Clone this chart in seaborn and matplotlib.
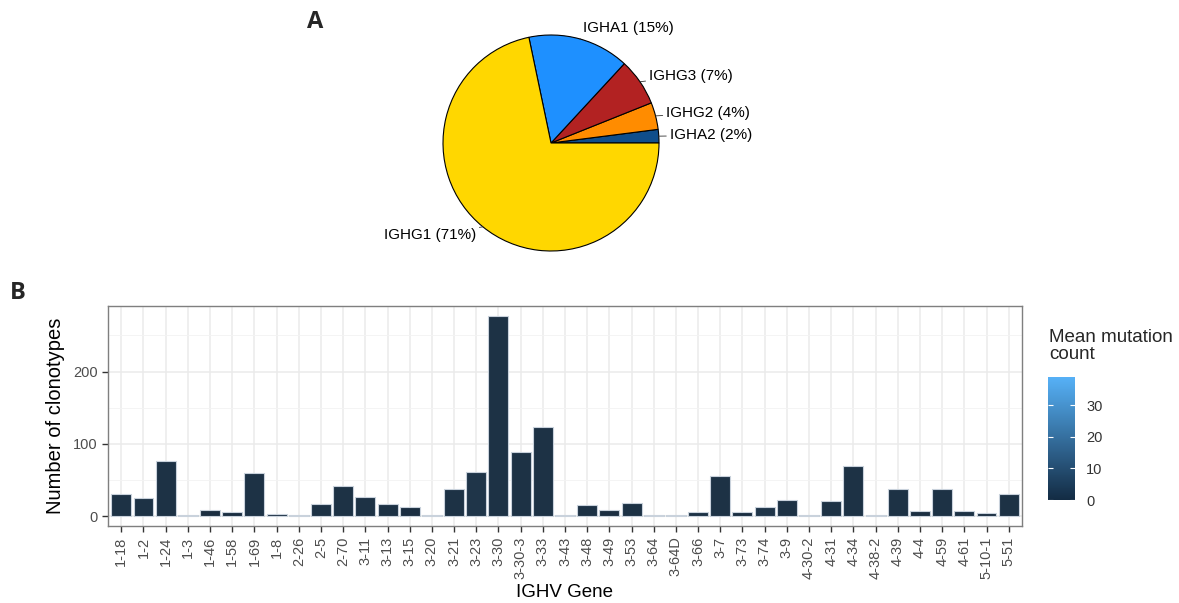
import matplotlib
matplotlib.use("Agg")
import matplotlib.pyplot as plt
import matplotlib.colors as mcolors
import numpy as np
import pandas as pd
import seaborn as sns

# panel A: isotype shares
isotypes = ["IGHA2", "IGHG2", "IGHG3", "IGHA1", "IGHG1"]
iso_pct = [2, 4, 7, 15, 71]
iso_colors = ["#104E8B", "#FF8C00", "#B22222", "#1E90FF", "#FFD700"]

# panel B: clonotypes per IGHV gene
genes = ["1-18", "1-2", "1-24", "1-3", "1-46", "1-58", "1-69", "1-8", "2-26", "2-5",
         "2-70", "3-11", "3-13", "3-15", "3-20", "3-21", "3-23", "3-30", "3-30-3", "3-33",
         "3-43", "3-48", "3-49", "3-53", "3-64", "3-64D", "3-66", "3-7", "3-73", "3-74",
         "3-9", "4-30-2", "4-31", "4-34", "4-38-2", "4-39", "4-4", "4-59", "4-61", "5-10-1",
         "5-51"]
clonotypes = [31, 25, 76, 1, 9, 5, 60, 3, 1, 16,
              42, 26, 16, 13, 1, 38, 61, 277, 88, 123,
              1, 15, 9, 18, 2, 1, 5, 56, 5, 12,
              22, 2, 21, 69, 1, 38, 7, 37, 7, 4,
              30]
mean_mut = [2, 2, 2, 4, 1, 1, 2, 1, 4, 2,
            2, 2, 2, 1, 5, 2, 3, 2, 2, 2,
            4, 2, 1, 2, 2, 8, 2, 2, 1, 3,
            2, 3, 2, 2, 5, 2, 1, 2, 2, 1,
            2]
mut_max = 39

sns.set_style("white")
plt.rcParams["font.family"] = ["Liberation Sans", "DejaVu Sans"]

W, H = 1179, 603
fig = plt.figure(figsize=(W / 100, H / 100), dpi=100)

def px_axes(x0, y0, x1, y1):
    return fig.add_axes([x0 / W, 1 - y1 / H, (x1 - x0) / W, (y1 - y0) / H])

# ---- pie ----
cx, cy, r = 551, 143, 108
axp = px_axes(cx - r, cy - r, cx + r, cy + r)
wedges, _ = axp.pie(iso_pct, colors=iso_colors, startangle=0, counterclock=True,
                    wedgeprops=dict(edgecolor="black", linewidth=0.8))
axp.set_xlim(-1, 1)
axp.set_ylim(-1, 1)
axp.set_aspect("equal")
axp.axis("off")
for w, name, p in zip(wedges, isotypes, iso_pct):
    ang = np.deg2rad((w.theta1 + w.theta2) / 2)
    ex, ey = np.cos(ang), np.sin(ang)
    tx, ty = 1.1 * ex, 1.1 * ey
    ha = "left" if ex >= 0 else "right"
    axp.annotate(f"{name} ({p}%)", xy=(ex, ey), xytext=(tx, ty), ha=ha, va="center",
                 fontsize=11, color="black", annotation_clip=False,
                 arrowprops=dict(arrowstyle="-", color="#333333", lw=0.6, shrinkA=0, shrinkB=0))

fig.text(315 / W, 1 - 22 / H, "A", fontsize=17, fontweight="bold", ha="center", va="center",
         family=["Open Sans", "DejaVu Sans"])
fig.text(18 / W, 1 - 293 / H, "B", fontsize=17, fontweight="bold", ha="center", va="center",
         family=["Open Sans", "DejaVu Sans"])

# ---- bars ----
low, high = "#132B43", "#56B1F7"
cmap = mcolors.LinearSegmentedColormap.from_list("gg", [low, high])
norm = mcolors.Normalize(0, mut_max)
df = pd.DataFrame({"gene": genes, "n": clonotypes, "mut": mean_mut})
pal = {g: cmap(norm(m)) for g, m in zip(genes, mean_mut)}

axb = px_axes(108, 306, 1022, 526)
sns.barplot(data=df, x="gene", y="n", hue="gene", palette=pal, order=genes, legend=False,
            width=0.9, edgecolor="#c9d2dc", linewidth=0.8, ax=axb, zorder=3)
axb.set_ylim(-13.85, 277 + 13.85)
axb.set_xlim(-0.6, len(genes) - 0.4)
axb.set_yticks([0, 100, 200])
axb.set_yticks([50, 150, 250], minor=True)
axb.grid(True, which="major", color="#ebebeb", linewidth=1.1, zorder=0)
axb.grid(True, which="minor", axis="y", color="#f3f3f3", linewidth=0.6, zorder=0)
axb.set_axisbelow(True)
for s in axb.spines.values():
    s.set_color("#7f7f7f")
    s.set_linewidth(1)
axb.tick_params(axis="both", which="major", length=4, width=1, color="#333333",
                labelcolor="#4d4d4d", labelsize=10.5, left=True, bottom=True)
axb.tick_params(axis="y", which="minor", length=0)
axb.tick_params(axis="x", rotation=90)
axb.set_xlabel("IGHV Gene", fontsize=13.5, color="black", labelpad=4)
axb.set_ylabel("Number of clonotypes", fontsize=14.5, color="black", labelpad=6)

# ---- colorbar ----
axc = px_axes(1048, 377, 1075, 500)
sm = plt.cm.ScalarMappable(norm=norm, cmap=cmap)
cb = fig.colorbar(sm, cax=axc)
cb.outline.set_visible(False)
cb.set_ticks([0, 10, 20, 30])
axc.tick_params(length=0, labelsize=10.5, labelcolor="#333333", pad=8)
for v in [0, 10, 20, 30]:
    axc.hlines(v, 0, 0.2, color="white", lw=0.8, transform=axc.get_yaxis_transform())
    axc.hlines(v, 0.8, 1, color="white", lw=0.8, transform=axc.get_yaxis_transform())
fig.text(1049 / W, 1 - 346 / H, "Mean mutation\ncount", fontsize=13.5, ha="left", va="center",
         linespacing=1.0)

fig.savefig("out.png", dpi=100)
